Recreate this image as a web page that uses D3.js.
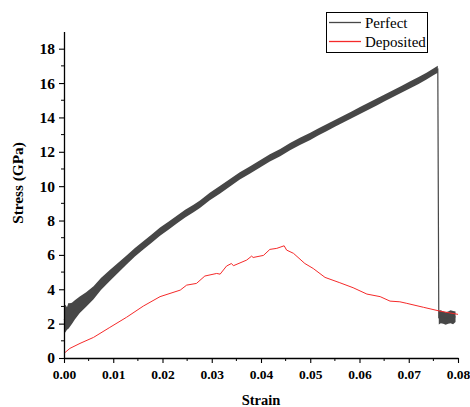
<!DOCTYPE html>
<html>
<head>
<meta charset="utf-8">
<script src="https://cdn.jsdelivr.net/npm/d3@7"></script>
<style>
  body { margin: 0; background: #fff; }
  text { font-family: "Liberation Serif", "Times New Roman", serif; }
</style>
</head>
<body>
<svg width="470" height="407"></svg>
<script>
// Perfect: centre of the noisy band and its half-width
const perfectStrain = [0, 0.0003, 0.0006, 0.0009, 0.0012, 0.0016, 0.0022, 0.0032, 0.0045, 0.006, 0.0075, 0.0093, 0.011, 0.0127, 0.0144, 0.0161,
  0.0178, 0.0195, 0.0212, 0.0229, 0.0246, 0.0263, 0.0276, 0.0296, 0.0317, 0.0337, 0.0357, 0.0378, 0.0398, 0.0418,
  0.0439, 0.0459, 0.0479, 0.05, 0.0516, 0.0533, 0.055, 0.0567, 0.0584, 0.0601, 0.0618, 0.0635, 0.0652, 0.0669,
  0.0686, 0.0703, 0.072, 0.0736, 0.075, 0.0759, 0.0761, 0.0765, 0.077, 0.0775, 0.078, 0.0785, 0.079, 0.0795];
const perfectStress = [2.2, 2.3, 2.3, 2.45, 2.5, 2.6, 2.8, 3.1, 3.4, 3.8, 4.3, 4.8, 5.25, 5.7, 6.15, 6.55,
  6.95, 7.35, 7.7, 8.05, 8.4, 8.7, 8.95, 9.4, 9.8, 10.2, 10.6, 10.95, 11.3, 11.65,
  11.95, 12.3, 12.6, 12.9, 13.15, 13.4, 13.65, 13.9, 14.15, 14.4, 14.65, 14.9, 15.15, 15.4,
  15.65, 15.9, 16.15, 16.4, 16.65, 16.8, 2.35, 2.4, 2.35, 2.3, 2.35, 2.4, 2.35, 2.4];
const perfectSpread = [0.75, 0.8, 0.65, 0.75, 0.68, 0.62, 0.56, 0.48, 0.42, 0.38, 0.35, 0.32, 0.29, 0.26, 0.25, 0.24,
  0.24, 0.24, 0.23, 0.23, 0.22, 0.22, 0.22, 0.22, 0.22, 0.22, 0.21, 0.21, 0.21, 0.21,
  0.21, 0.21, 0.21, 0.21, 0.2, 0.2, 0.2, 0.2, 0.2, 0.2, 0.2, 0.2, 0.2, 0.2,
  0.2, 0.2, 0.2, 0.2, 0.2, 0.2, 0.4, 0.38, 0.36, 0.36, 0.36, 0.38, 0.38, 0.3];

// Deposited
const depositedStrain = [0, 0.0012, 0.00325, 0.006, 0.0093, 0.0127, 0.0161, 0.0195, 0.0236, 0.0249, 0.0269, 0.0286,
  0.031, 0.0317, 0.033, 0.034, 0.0344, 0.0371, 0.0381, 0.0384, 0.0405, 0.0418, 0.0432, 0.0447, 0.0452, 0.0466,
  0.0489, 0.0506, 0.053, 0.056, 0.0587, 0.0615, 0.0642, 0.0662, 0.0682, 0.0696, 0.073, 0.0763, 0.08];
const depositedStress = [0.27, 0.56, 0.85, 1.2, 1.78, 2.37, 3.02, 3.57, 3.95, 4.24, 4.34, 4.77,
  4.92, 4.88, 5.35, 5.5, 5.37, 5.7, 5.93, 5.85, 5.97, 6.32, 6.38, 6.53, 6.28, 6.09,
  5.5, 5.21, 4.69, 4.38, 4.09, 3.72, 3.57, 3.31, 3.27, 3.18, 2.95, 2.73, 2.54];

const xTicks = [0, 0.01, 0.02, 0.03, 0.04, 0.05, 0.06, 0.07, 0.08];
const yTicks = [0, 2, 4, 6, 8, 10, 12, 14, 16, 18];
const seriesNames = ['Perfect', 'Deposited'];
const seriesColors = ['#474747', '#f52a2a'];

const svg = d3.select('svg');

const x = d3.scaleLinear().domain([0, 0.08]).range([64, 458]);
const y = d3.scaleLinear().domain([0, 19]).range([358, 31.5]);

const perfect = perfectStrain.map((s, i) => ({ s, v: perfectStress[i], d: perfectSpread[i] }));
const deposited = depositedStrain.map((s, i) => ({ s, v: depositedStress[i] }));

// perfect band
svg.append('path')
    .datum(perfect)
    .attr('fill', seriesColors[0])
    .attr('d', d3.area()
        .x(d => x(d.s))
        .y0(d => y(d.v - d.d))
        .y1(d => y(d.v + d.d)));

svg.append('path')
    .datum(perfect)
    .attr('fill', 'none')
    .attr('stroke', seriesColors[0])
    .attr('stroke-width', 1.2)
    .attr('d', d3.line().x(d => x(d.s)).y(d => y(d.v)));

svg.append('path')
    .datum(deposited)
    .attr('fill', 'none')
    .attr('stroke', seriesColors[1])
    .attr('stroke-width', 1)
    .attr('d', d3.line().x(d => x(d.s)).y(d => y(d.v)));

// axes
const xAxis = svg.append('g')
    .attr('transform', 'translate(0,358)')
    .call(d3.axisBottom(x).tickValues(xTicks).tickFormat(d3.format('.2f'))
        .tickSize(5).tickSizeOuter(0).tickPadding(6));
xAxis.selectAll('.minor')
    .data(d3.range(0.005, 0.08, 0.01))
    .enter().append('line')
    .attr('x1', d => x(d)).attr('x2', d => x(d))
    .attr('y1', 0).attr('y2', 3)
    .attr('stroke', 'black');
xAxis.selectAll('text')
    .attr('font-family', '"Liberation Serif", serif')
    .attr('font-weight', 'bold')
    .attr('font-size', '13.5px')
    .attr('fill', 'black');

const yAxis = svg.append('g')
    .attr('transform', 'translate(64,0)')
    .call(d3.axisLeft(y).tickValues(yTicks).tickSize(5).tickSizeOuter(0).tickPadding(4));
yAxis.selectAll('.minor')
    .data(d3.range(1, 19, 2))
    .enter().append('line')
    .attr('y1', d => y(d)).attr('y2', d => y(d))
    .attr('x1', 0).attr('x2', -3)
    .attr('stroke', 'black');
yAxis.selectAll('text')
    .attr('font-family', '"Liberation Serif", serif')
    .attr('font-weight', 'bold')
    .attr('font-size', '15.5px')
    .attr('fill', 'black');

svg.selectAll('.domain').attr('stroke-width', 1.3);
svg.selectAll('.tick line').attr('stroke-width', 1.1);

// titles
svg.append('text')
    .attr('x', 261).attr('y', 405)
    .attr('text-anchor', 'middle')
    .attr('font-weight', 'bold')
    .attr('font-size', '14.5px')
    .text('Strain');

svg.append('text')
    .attr('transform', 'translate(23,183) rotate(-90)')
    .attr('text-anchor', 'middle')
    .attr('font-weight', 'bold')
    .attr('font-size', '15.3px')
    .text('Stress (GPa)');

// legend
const legend = svg.append('g');
legend.append('rect')
    .attr('x', 326.5).attr('y', 12.5)
    .attr('width', 101).attr('height', 40)
    .attr('fill', 'white').attr('stroke', 'black').attr('stroke-width', 1);
seriesNames.forEach((name, i) => {
    const ly = 22.5 + i * 19;
    legend.append('line')
        .attr('x1', 329).attr('x2', 361)
        .attr('y1', ly).attr('y2', ly)
        .attr('stroke', seriesColors[i]).attr('stroke-width', 1.3);
    legend.append('text')
        .attr('x', 365).attr('y', ly + 5)
        .attr('font-size', '15px')
        .text(name);
});
</script>
</body>
</html>
